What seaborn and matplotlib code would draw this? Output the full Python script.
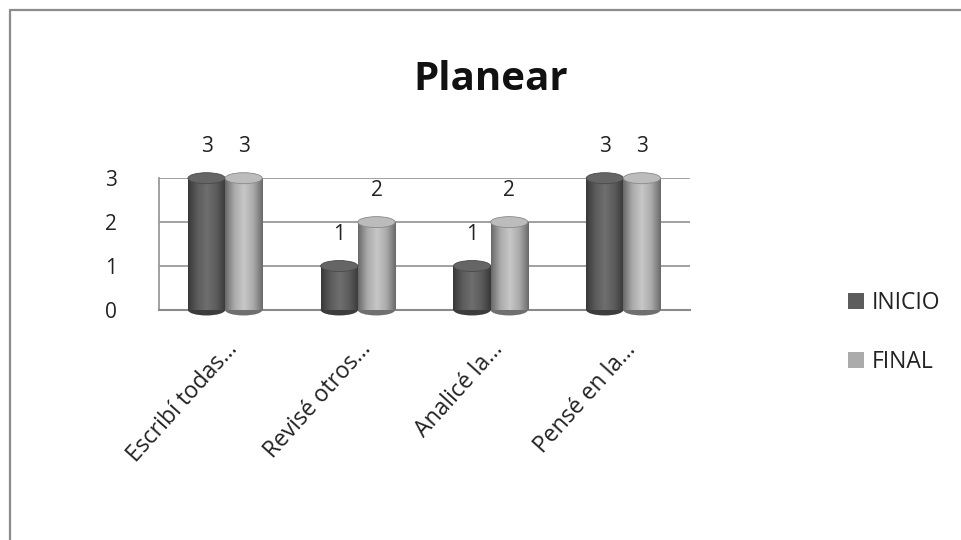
import numpy as np
import pandas as pd
import seaborn as sns
import matplotlib.pyplot as plt
from matplotlib.patches import Ellipse, Patch
from matplotlib.lines import Line2D
from matplotlib.colors import LinearSegmentedColormap, to_rgb

# Chart data
categories = ["Escribí todas...", "Revisé otros...", "Analicé la...", "Pensé en la..."]
series = ["INICIO", "FINAL"]
inicio = [3, 1, 1, 3]
final = [3, 2, 2, 3]
y_ticks = [0, 1, 2, 3]

colors = {"INICIO": "#5c5c5c", "FINAL": "#ababab"}

df = pd.DataFrame({
    "categoria": categories * 2,
    "valor": inicio + final,
    "serie": [series[0]] * len(categories) + [series[1]] * len(categories),
})

sns.set_theme(style="white")
plt.rcParams["font.family"] = ["Open Sans", "DejaVu Sans"]

fig = plt.figure(figsize=(9.62, 5.4), dpi=100)
ax = fig.add_axes([0.165, 0.426, 0.552, 0.244])

sns.barplot(data=df, x="categoria", y="valor", hue="serie", order=categories,
            hue_order=series, palette=colors, width=0.56, saturation=1,
            legend=False, ax=ax, zorder=3)

ax.set_xlim(-0.5, len(categories) - 0.5)
ax.set_ylim(0, 3)

# pixel -> data scale for the elliptical caps
p0 = ax.transData.transform((0, 0))
p1 = ax.transData.transform((0, 1))
data_per_px = 1.0 / (p1[1] - p0[1])
cap_h = 11 * data_per_px


def shade(base, n=64):
    r, g, b = to_rgb(base)
    dark = (r * 0.62, g * 0.62, b * 0.62)
    light = tuple(min(1, c * 1.12 + 0.03) for c in (r, g, b))
    return LinearSegmentedColormap.from_list(
        "cyl", [dark, base, light, base, dark], N=n)


for container, name in zip(ax.containers, series):
    base = colors[name]
    cmap = shade(base)
    r, g, b = to_rgb(base)
    for bar in container:
        x, y = bar.get_x(), bar.get_y()
        w, h = bar.get_width(), bar.get_height()
        bar.set_facecolor("none")
        bar.set_edgecolor("none")
        # bottom rim
        ax.add_patch(Ellipse((x + w / 2, y), w, cap_h, facecolor=(r * 0.65, g * 0.65, b * 0.65),
                             edgecolor="none", zorder=3, clip_on=False))
        grad = np.linspace(0, 1, 64).reshape(1, -1)
        ax.imshow(grad, extent=(x, x + w, y, y + h), cmap=cmap,
                  aspect="auto", origin="lower", zorder=4)
        # top cap
        ax.add_patch(Ellipse((x + w / 2, y + h), w, cap_h,
                             facecolor=(min(1, r * 1.1), min(1, g * 1.1), min(1, b * 1.1)),
                             edgecolor=(r * 0.8, g * 0.8, b * 0.8), lw=0.6, zorder=5, clip_on=False))
    ax.bar_label(container, labels=[f"{v:g}" for v in container.datavalues],
                 padding=15, fontsize=15, color="#222222", zorder=6)

ax.set_xlim(-0.5, len(categories) - 0.5)
ax.set_ylim(0, 3)

ax.set_yticks(y_ticks)
ax.set_yticklabels([str(t) for t in y_ticks], fontsize=15, color="#222222")
ax.tick_params(axis="y", length=0, pad=30)
ax.yaxis.grid(True, color="#9a9a9a", lw=1.3, zorder=0)
ax.set_xlabel("")
ax.set_ylabel("")
ax.set_xticks(range(len(categories)))
ax.set_xticklabels(categories, rotation=48, ha="right", rotation_mode="anchor",
                   fontsize=16.5, color="#222222")
ax.tick_params(axis="x", length=0, pad=20)
for side in ["top", "right"]:
    ax.spines[side].set_visible(False)
ax.spines["bottom"].set_color("#8a8a8a")
ax.spines["bottom"].set_linewidth(1.5)
ax.spines["left"].set_color("#9a9a9a")
ax.spines["left"].set_linewidth(1.3)

fig.text(0.51, 0.852, "Planear", ha="center", va="center", fontsize=29,
         fontweight="bold", color="#111111")

handles = [Patch(facecolor=colors[s], edgecolor="none", label=s) for s in series]
leg = fig.legend(handles=handles, loc="upper left", bbox_to_anchor=(0.86, 0.5),
                 frameon=False, handlelength=0.7, handleheight=0.7, handletextpad=0.35,
                 labelspacing=1.55, prop={"size": 16.5})
for t in leg.get_texts():
    t.set_color("#222222")

# outer chart frame
fig.add_artist(Line2D([10 / 962, 1], [1 - 10 / 540] * 2, transform=fig.transFigure,
                      color="#8c8c8c", lw=1.6))
fig.add_artist(Line2D([10 / 962] * 2, [0, 1 - 10 / 540], transform=fig.transFigure,
                      color="#8c8c8c", lw=1.6))

fig.savefig("out.png", dpi=100)
